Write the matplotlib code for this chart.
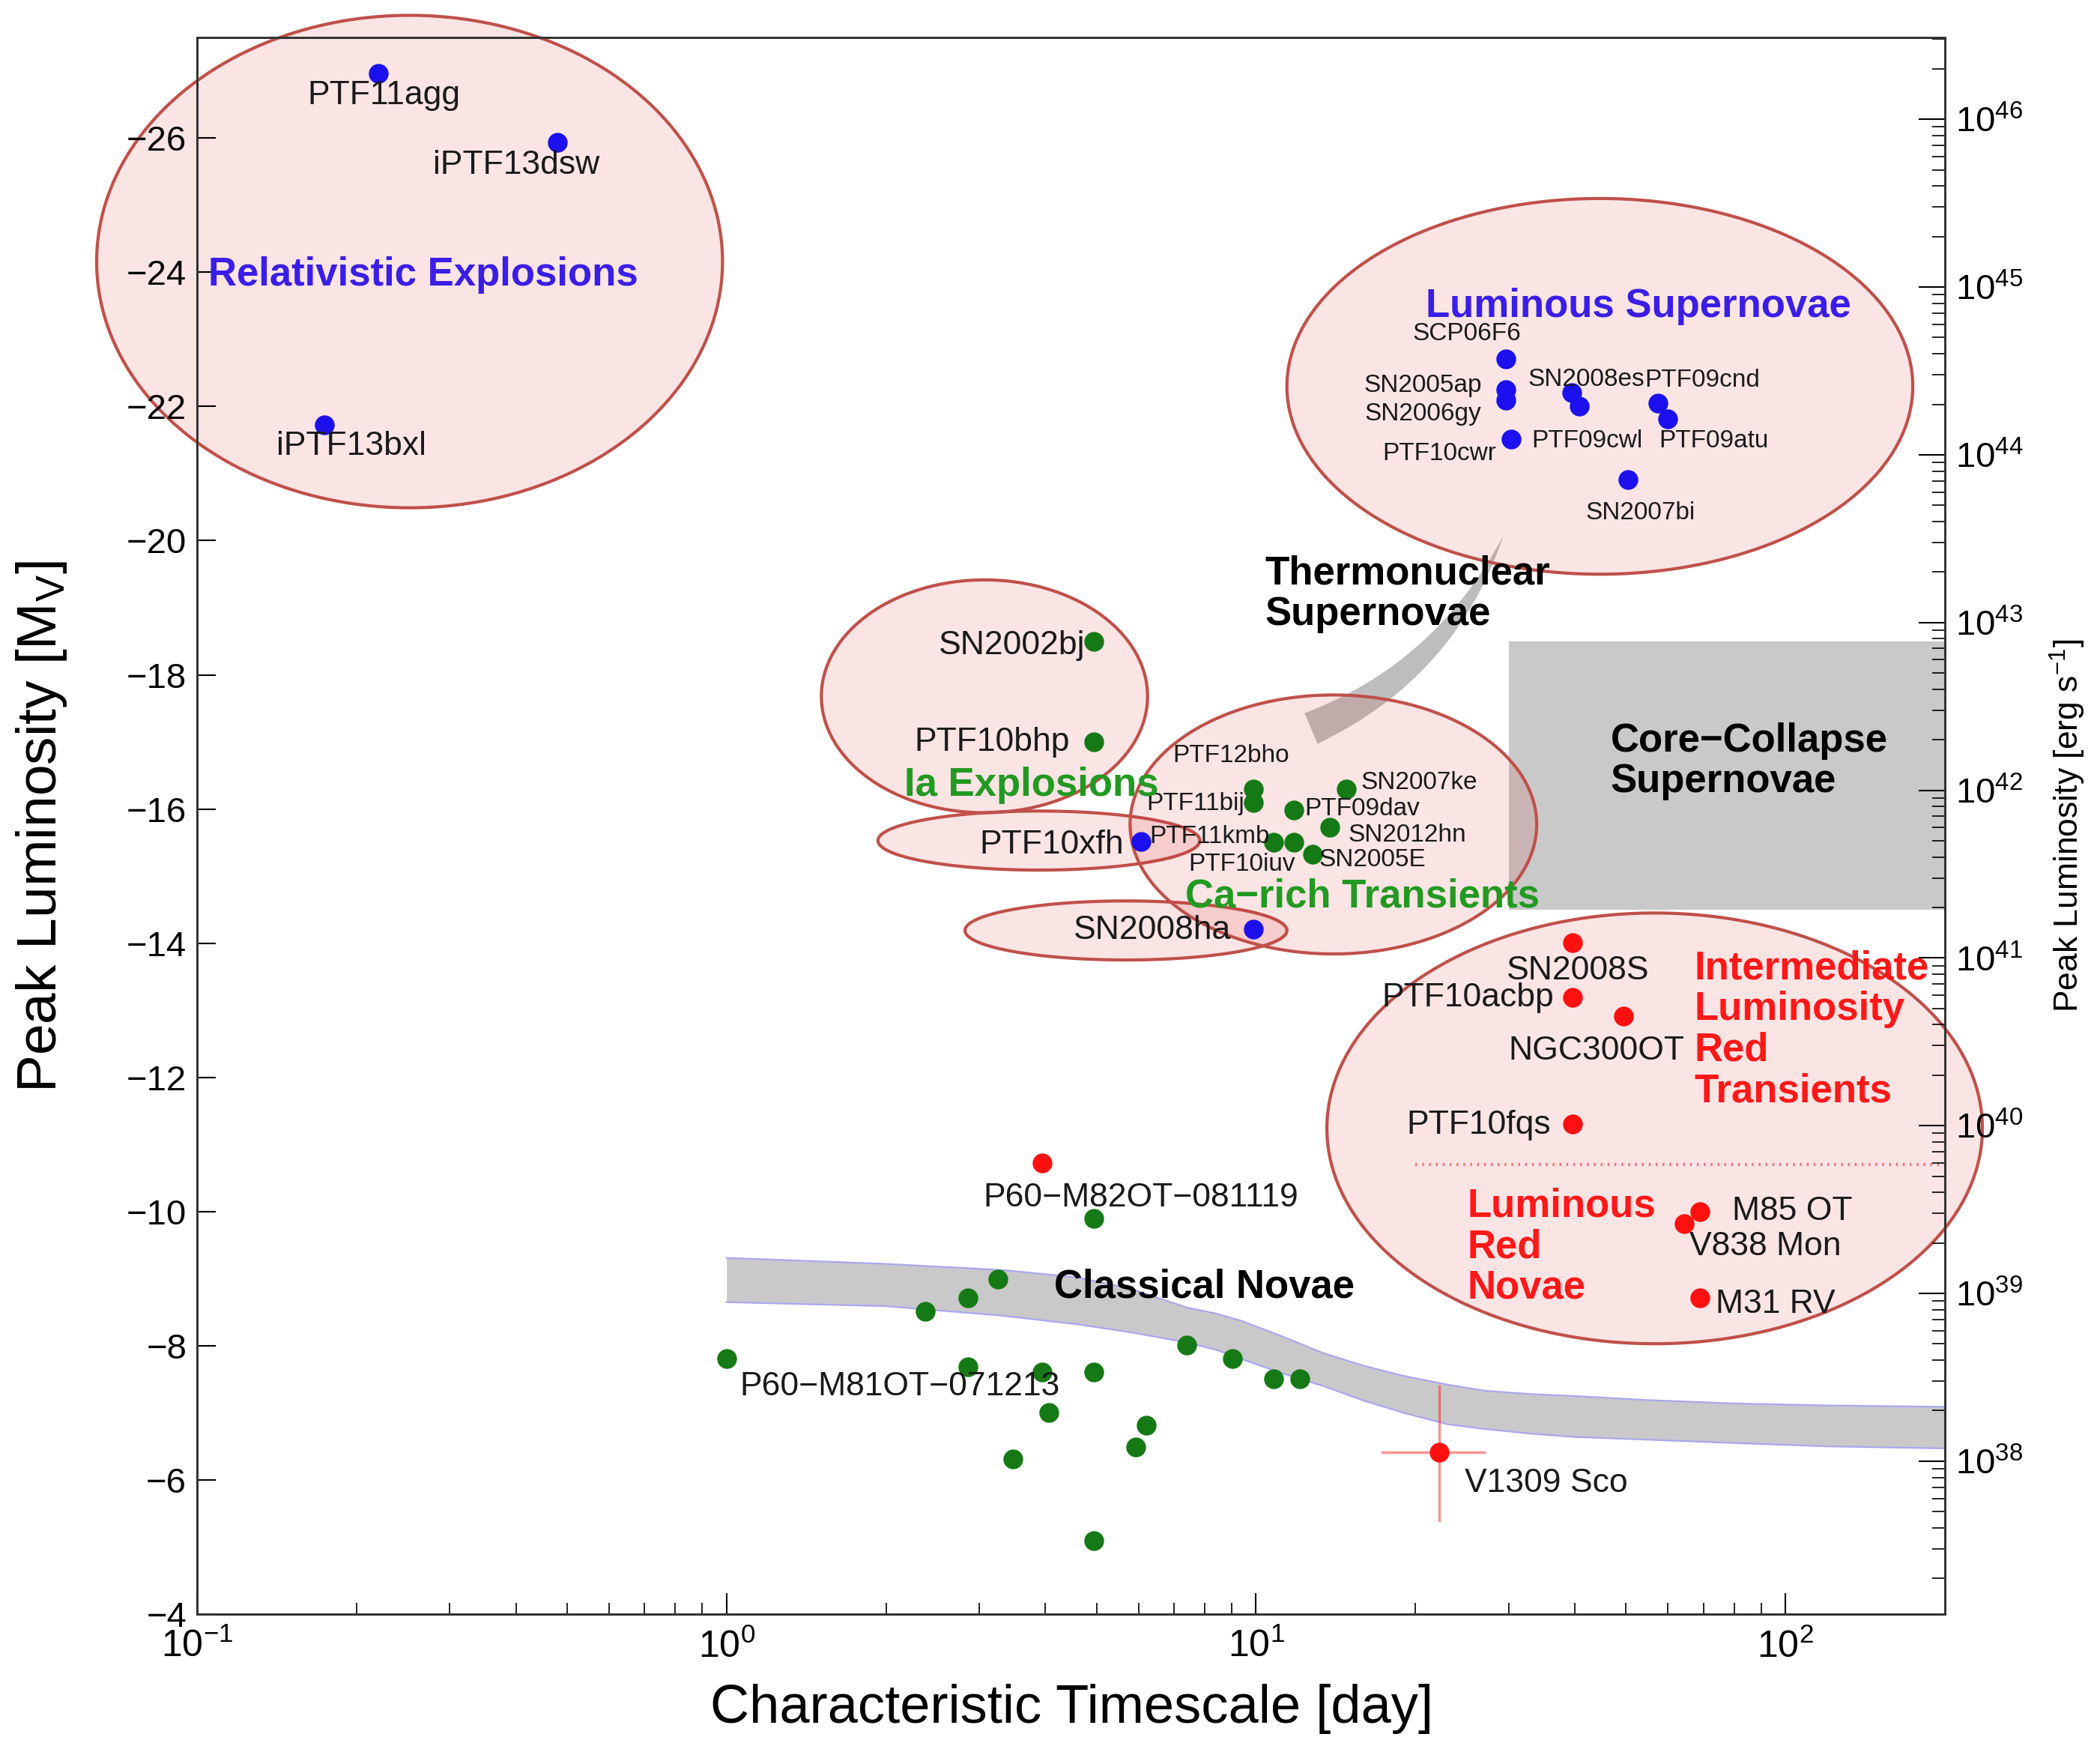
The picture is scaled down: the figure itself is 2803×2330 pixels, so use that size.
import numpy as np
import matplotlib
matplotlib.use("Agg")
import matplotlib.pyplot as plt
from matplotlib.ticker import LogLocator, LogFormatterSciNotation, MultipleLocator, NullFormatter
from matplotlib.patches import FancyArrowPatch, ArrowStyle

plt.rcParams['font.family'] = ['Liberation Sans', 'DejaVu Sans']
plt.rcParams['mathtext.fontset'] = 'custom'
plt.rcParams['mathtext.rm'] = 'Liberation Sans'
plt.rcParams['mathtext.it'] = 'Liberation Sans:italic'
plt.rcParams['mathtext.bf'] = 'Liberation Sans:bold'

# ---------------- data ----------------
blue_names = ['PTF11agg', 'iPTF13dsw', 'iPTF13bxl', 'SCP06F6', 'SN2005ap', 'SN2006gy',
              'PTF10cwr', 'SN2008es', 'PTF09cwl', 'PTF09cnd', 'PTF09atu', 'SN2007bi',
              'PTF10xfh', 'SN2008ha']
blue_t = [0.22, 0.48, 0.174, 29.6, 29.6, 29.6, 30.3, 39.5, 40.8, 57.5, 60.0, 50.4, 6.07, 9.9]
blue_M = [-26.96, -25.94, -21.73, -22.71, -22.25, -22.09, -21.51, -22.21, -22.0, -22.05,
          -21.81, -20.91, -15.51, -14.21]

green_names = ['SN2002bj', 'PTF10bhp', 'PTF12bho', 'PTF11bij', 'PTF09dav', 'SN2007ke',
               'SN2012hn', 'PTF11kmb', 'PTF10iuv', 'SN2005E']
green_t = [4.94, 4.94, 9.9, 9.9, 11.8, 14.8, 13.8, 10.8, 11.8, 12.8]
green_M = [-18.5, -17.0, -16.3, -16.1, -15.99, -16.3, -15.73, -15.5, -15.5, -15.33]

nova_names = ['P60\u2212M81OT\u2212071213'] + [''] * 16
nova_t = [1.0, 2.37, 2.86, 3.26, 4.94, 2.86, 3.94, 4.94, 4.06, 7.39, 9.02, 10.8, 12.1,
          6.21, 5.93, 3.47, 4.94]
nova_M = [-7.81, -8.51, -8.71, -8.99, -9.90, -7.69, -7.61, -7.61, -7.01, -8.01, -7.81,
          -7.51, -7.51, -6.81, -6.49, -6.31, -5.10]

red_names = ['SN2008S', 'PTF10acbp', 'NGC300OT', 'PTF10fqs', 'P60\u2212M82OT\u2212081119',
             'M85 OT', 'V838 Mon', 'M31 RV', 'V1309 Sco']
red_t = [39.6, 39.6, 49.4, 39.6, 3.94, 68.9, 64.3, 68.9, 22.2]
red_M = [-14.01, -13.19, -12.91, -11.3, -10.72, -10.0, -9.82, -8.71, -6.41]

# V1309 Sco error ranges
v1309_t_range = [17.3, 27.0]
v1309_M_range = [-7.39, -5.40]

# classical novae band
band_t = [1.0, 2.0, 3.3, 4.6, 5.8, 7.4, 8.4, 9.4, 11.2, 13.4, 16.0, 19.0, 23.0, 27.0,
          33.0, 40.0, 55.0, 80.0, 120.0, 200.0]
band_upper = [-9.31, -9.22, -9.13, -9.02, -8.85, -8.57, -8.48, -8.37, -8.14, -7.89, -7.70,
              -7.55, -7.42, -7.33, -7.28, -7.25, -7.19, -7.14, -7.11, -7.09]
band_lower = [-8.65, -8.59, -8.45, -8.32, -8.20, -8.05, -7.94, -7.80, -7.59, -7.40, -7.18,
              -7.00, -6.83, -6.76, -6.69, -6.64, -6.60, -6.55, -6.50, -6.47]

# core-collapse region
cc_t = [30.0, 200.0]
cc_M = [-18.5, -14.5]

# class regions (ellipses): centre timescale, centre mag, half-width (dex), half-height (mag)
ell_t = [0.252, 44.6, 3.07, 3.89, 5.68, 14.0, 56.6]
ell_M = [-24.16, -22.30, -17.68, -15.53, -14.19, -15.77, -11.24]
ell_dw = [0.591, 0.591, 0.308, 0.304, 0.304, 0.384, 0.619]
ell_dm = [3.67, 2.80, 1.735, 0.44, 0.44, 1.93, 3.21]

# ILRT / LRN divider
divider_t = [20.0, 200.0]
divider_M = -10.7

# thermonuclear arrow (tail -> tip)
arrow_t = [12.7, 29.3]
arrow_M = [-17.20, -20.07]

# class labels
class_labels = ['Relativistic Explosions', 'Luminous Supernovae', 'Ia Explosions',
                'Ca\u2212rich Transients', 'Intermediate\nLuminosity\nRed\nTransients',
                'Luminous\nRed\nNovae', 'Thermonuclear\nSupernovae',
                'Core\u2212Collapse\nSupernovae', 'Classical Novae']
class_t = [0.105, 52.7, 3.77, 15.9, 67.3, 25.1, 10.4, 46.7, 4.16]
class_M = [-23.96, -23.49, -16.35, -14.69, -12.71, -9.47, -19.20, -16.71, -8.87]

# ---------------- styles / layout ----------------
BLUE = '#1c10ee'
GREEN = '#157a15'
RED = '#ff1010'
BLUE_T = '#3a1ee6'
GREEN_T = '#229a22'
RED_T = '#ff1818'
class_style = [(BLUE_T, 'left'), (BLUE_T, 'center'), (GREEN_T, 'center'), (GREEN_T, 'center'),
               (RED_T, 'left'), (RED_T, 'left'), ('black', 'left'), ('black', 'left'),
               ('black', 'left')]

small_labels = {'SCP06F6', 'SN2005ap', 'SN2006gy', 'PTF10cwr', 'SN2008es', 'PTF09cnd',
                'PTF09cwl', 'PTF09atu', 'SN2007bi', 'PTF12bho', 'PTF11bij', 'PTF09dav',
                'SN2007ke', 'SN2012hn', 'PTF11kmb', 'PTF10iuv', 'SN2005E'}
label_layout = {
    'PTF11agg': (5, -21, 'center'), 'iPTF13dsw': (-40, -22, 'center'),
    'iPTF13bxl': (26, -21, 'center'), 'SCP06F6': (-37, 24, 'center'),
    'SN2005ap': (-23, 4, 'right'), 'SN2006gy': (-23, -13, 'right'),
    'PTF10cwr': (-14, -14, 'right'), 'SN2008es': (-42, 12, 'left'),
    'PTF09cnd': (-13, 22, 'left'), 'PTF09cwl': (-46, -33, 'left'),
    'PTF09atu': (-9, -21, 'left'), 'SN2007bi': (12, -32, 'center'),
    'SN2002bj': (-8, -4, 'right'), 'PTF10bhp': (-23, 0, 'right'),
    'PTF10xfh': (-17, -3, 'right'), 'SN2008ha': (-22, -1, 'right'),
    'PTF12bho': (-22, 32, 'center'), 'PTF11bij': (-9, -1, 'right'),
    'PTF09dav': (10, 1, 'left'), 'SN2007ke': (14, 6, 'left'),
    'SN2012hn': (17, -8, 'left'), 'PTF11kmb': (-4, 6, 'right'),
    'PTF10iuv': (-50, -21, 'center'), 'SN2005E': (6, -6, 'left'),
    'SN2008S': (5, -27, 'center'), 'PTF10acbp': (-18, 0, 'right'),
    'NGC300OT': (59, -33, 'right'), 'PTF10fqs': (-21, -1, 'right'),
    'P60\u2212M82OT\u2212081119': (95, -33, 'center'),
    'P60\u2212M81OT\u2212071213': (13, -27, 'left'),
    'V1309 Sco': (24, -30, 'left'), 'M85 OT': (31, 0, 'left'),
    'V838 Mon': (5, -22, 'left'), 'M31 RV': (15, -6, 'left'),
}


def lum(M):
    return 10 ** (38 + (-np.asarray(M) - 6.28) / 2.5)


W, H = 2803, 2330
fig = plt.figure(figsize=(W / 100, H / 100), dpi=100)
ax = fig.add_axes([263 / W, 1 - 2154 / H, (2596 - 263) / W, (2154 - 50) / H])
ax.set_xscale('log')
ax.set_xlim(0.1, 200)
ax.set_ylim(-4, -27.5)

# core collapse box
ax.fill_between(cc_t, cc_M[0], cc_M[1], color='#c9c9c9', lw=0, zorder=0.5)

# thermonuclear wedge arrow
arr = FancyArrowPatch((arrow_t[0], arrow_M[0]), (arrow_t[1], arrow_M[1]),
                      arrowstyle=ArrowStyle.Wedge(tail_width=0.32, shrink_factor=0.6),
                      connectionstyle='arc3,rad=0.2', mutation_scale=100,
                      color='#bdbdbd', lw=0, shrinkA=0, shrinkB=0, zorder=0.6)
ax.add_patch(arr)

# classical novae band
ax.fill_between(band_t, band_upper, band_lower, color='#c9c9c9', lw=0, zorder=0.7)
ax.plot(band_t, band_upper, color='#a8a8f0', lw=1.6, zorder=0.8)
ax.plot(band_t, band_lower, color='#a8a8f0', lw=1.6, zorder=0.8)

# ellipses
theta = np.linspace(0, 2 * np.pi, 400)
for tc, mc, dw, dm in zip(ell_t, ell_M, ell_dw, ell_dm):
    xs = 10 ** (np.log10(tc) + dw * np.cos(theta))
    ys = mc + dm * np.sin(theta)
    poly = ax.fill(xs, ys, facecolor=(0.86, 0.16, 0.16, 0.125),
                   edgecolor='#c0504a', lw=3, zorder=1)
    for p in poly:
        p.set_clip_on(False)

# divider
ax.plot(divider_t, [divider_M, divider_M], color='#f07878', lw=3,
        ls=(0, (0.6, 1.6)), zorder=1.2)

# V1309 Sco error bars
ax.plot(v1309_t_range, [red_M[-1], red_M[-1]], color=RED, alpha=0.45, lw=2.5, zorder=2)
ax.plot([red_t[-1], red_t[-1]], v1309_M_range, color=RED, alpha=0.45, lw=2.5, zorder=2)

# points
ms = 19
ax.plot(blue_t, blue_M, 'o', color=BLUE, ms=ms, mew=0, zorder=5)
ax.plot(green_t, green_M, 'o', color=GREEN, ms=ms, mew=0, zorder=5)
ax.plot(nova_t, nova_M, 'o', color=GREEN, ms=ms, mew=0, zorder=5)
ax.plot(red_t, red_M, 'o', color=RED, ms=ms, mew=0, zorder=5)

# point labels
for names, ts, Ms in [(blue_names, blue_t, blue_M), (green_names, green_t, green_M),
                      (nova_names, nova_t, nova_M), (red_names, red_t, red_M)]:
    for n, t, m in zip(names, ts, Ms):
        if not n:
            continue
        dx, dy, ha = label_layout[n]
        fs = 24 if n in small_labels else 32
        ax.annotate(n, (t, m), xytext=(dx, dy), textcoords='offset points',
                    ha=ha, va='center', fontsize=fs, color='#1a1a1a', zorder=6)

# class labels
for lab, t, m, (c, ha) in zip(class_labels, class_t, class_M, class_style):
    ax.text(t, m, lab, color=c, ha=ha, va='center', fontsize=38, fontweight='bold',
            linespacing=1.12, zorder=6)

# axes styling
ax.yaxis.set_major_locator(MultipleLocator(2))
ax.tick_params(axis='y', which='major', direction='in', length=18, width=1.5,
               labelsize=34, pad=10, right=False)
ax.tick_params(axis='x', which='major', direction='in', length=20, width=1.5,
               labelsize=36, pad=14, top=False)
ax.tick_params(axis='x', which='minor', direction='in', length=11, width=1.2, top=False)
ax.xaxis.set_major_formatter(LogFormatterSciNotation())
ax.xaxis.set_minor_formatter(NullFormatter())
for s in ax.spines.values():
    s.set_linewidth(2)
    s.set_color('#333333')

ax2 = ax.twinx()
ax2.set_yscale('log')
ax2.set_ylim(lum(-4), lum(-27.5))
ax2.yaxis.set_major_locator(LogLocator(base=10, numticks=30))
ax2.yaxis.set_minor_locator(LogLocator(base=10, subs=np.arange(2, 10), numticks=30))
ax2.yaxis.set_major_formatter(LogFormatterSciNotation())
ax2.yaxis.set_minor_formatter(NullFormatter())
ax2.xaxis.set_minor_formatter(NullFormatter())
ax2.tick_params(axis='y', which='major', direction='in', length=25, width=1.5,
                labelsize=34, pad=10)
ax2.tick_params(axis='y', which='minor', direction='in', length=12, width=1.2)
for s in ax2.spines.values():
    s.set_linewidth(2)
    s.set_color('#333333')

fig.text(56 / W, 1 - 1103 / H, 'Peak Luminosity [M$_\\mathrm{V}$]', rotation=90,
         ha='center', va='center', fontsize=54)
fig.text(1430 / W, 1 - 2280 / H, 'Characteristic Timescale [day]',
         ha='center', va='center', fontsize=52)
fig.text(2760 / W, 1 - 1102 / H, 'Peak Luminosity [erg s$^{-1}$]', rotation=90,
         ha='center', va='center', fontsize=32)

fig.savefig('out.png', dpi=100)
